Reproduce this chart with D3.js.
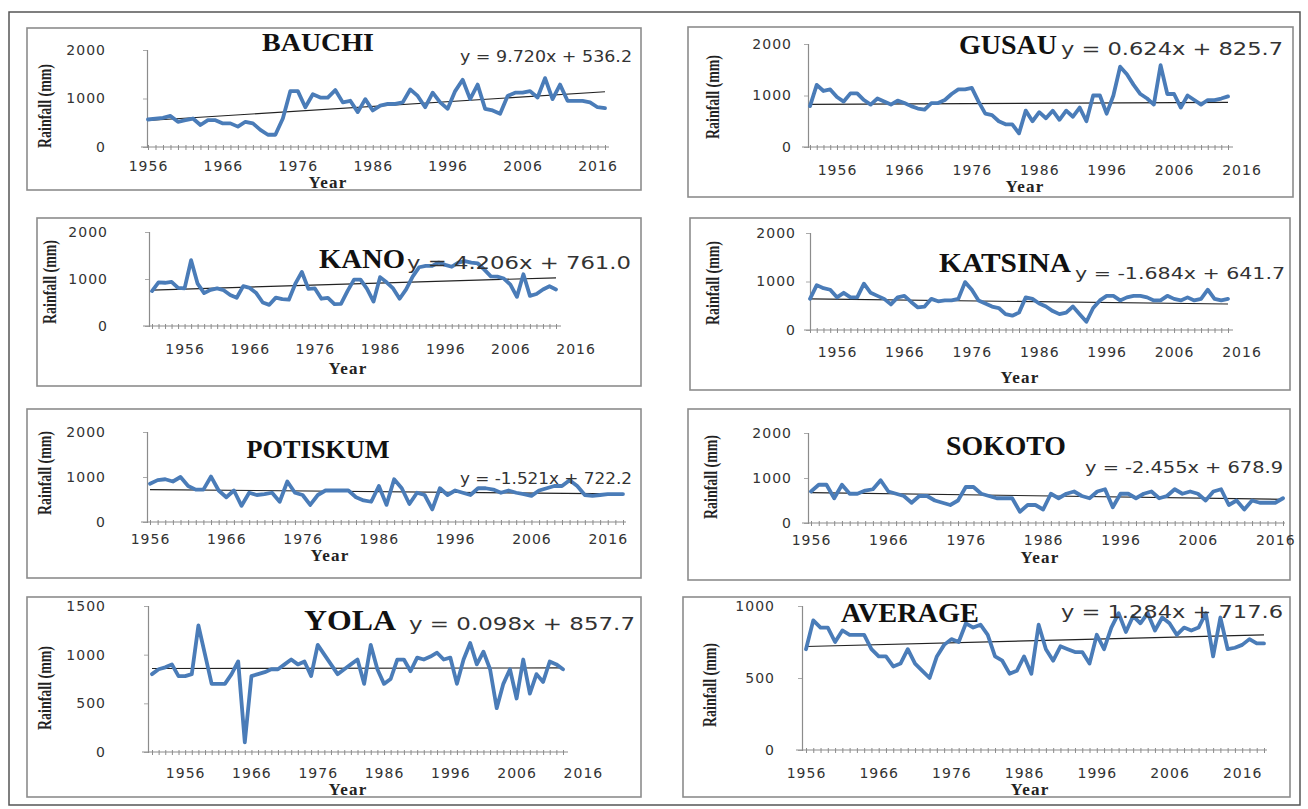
<!DOCTYPE html>
<html><head><meta charset="utf-8">
<script src="https://cdn.jsdelivr.net/npm/d3@7"></script>
<style>body{margin:0;background:#fff}</style>
</head><body><svg id="c" width="1308" height="809"></svg>
<script>
const stations = ["BAUCHI","GUSAU","KANO","KATSINA","POTISKUM","SOKOTO","YOLA","AVERAGE"];
const startYears = [1956,1952,1951,1952,1956,1956,1951,1956];
const yMax = [2000,2000,2000,2000,2000,2000,1500,1000];
const yStep = [1000,1000,1000,1000,1000,1000,500,500];
const slopes = [9.720,0.624,4.206,-1.684,-1.521,-2.455,0.098,1.284];
const intercepts = [536.2,825.7,761.0,641.7,722.2,678.9,857.7,717.6];
const equations = ["y = 9.720x + 536.2","y = 0.624x + 825.7","y = 4.206x + 761.0","y = -1.684x + 641.7","y = -1.521x + 722.2","y = -2.455x + 678.9","y = 0.098x + 857.7","y = 1.284x + 717.6"];
const xTickYears = [1956,1966,1976,1986,1996,2006,2016];

const bauchi = [567,587,600,640,520,553,587,453,553,553,487,487,420,520,487,353,253,253,587,1153,1153,820,1087,1020,1020,1173,920,953,720,987,753,853,887,887,920,1187,1053,820,1120,920,787,1153,1387,987,1287,787,753,687,1053,1120,1120,1153,1020,1420,987,1287,953,953,953,920,820,800];
const gusau = [794,1206,1088,1118,971,882,1041,1041,912,824,941,882,824,900,853,794,747,724,853,853,912,1029,1118,1118,1147,882,647,618,500,441,441,265,706,500,676,559,706,529,706,588,765,500,1000,1000,647,1000,1559,1412,1206,1029,941,824,1588,1029,1029,765,1000,912,824,912,912,941,982];
const kano = [743,930,920,940,810,800,1400,900,700,770,800,760,660,600,847,810,700,500,450,604,570,560,900,1150,790,800,580,600,465,470,743,986,986,790,520,1040,930,800,580,780,1050,1250,1280,1280,1350,1300,1260,1350,1380,1350,1330,1200,1056,1050,1010,880,620,1100,640,680,778,847,778];
const katsina = [642,925,862,830,673,767,673,673,956,767,704,642,528,673,704,579,465,484,642,591,610,610,642,987,830,610,547,484,453,327,296,358,673,642,547,484,390,327,358,484,327,170,453,610,704,704,610,673,704,704,673,610,610,704,642,610,673,610,642,830,642,610,642];
const potiskum = [850,930,950,900,1000,800,720,720,1010,700,550,700,360,650,600,620,650,450,900,650,600,380,600,700,700,700,700,550,480,450,800,380,950,750,400,650,600,280,750,600,700,650,600,750,750,720,650,700,650,620,580,700,750,800,800,930,800,600,580,600,620,620,620];
const sokoto = [700,850,850,550,850,650,650,720,750,950,700,650,600,450,600,600,500,450,400,500,800,800,650,600,550,550,550,250,400,400,300,650,550,650,700,600,550,700,750,350,650,650,550,650,700,550,600,750,650,700,650,500,700,750,400,500,300,500,450,450,450,550];
const yola = [800,850,870,900,780,780,800,1300,1000,700,700,700,800,930,100,780,800,820,850,850,900,950,900,930,780,1100,1000,900,800,850,900,950,700,1100,850,700,750,950,950,830,970,950,980,1020,950,970,700,950,1120,900,1030,850,450,700,850,550,950,600,800,720,930,900,850];
const average = [700,900,850,850,750,830,800,800,800,700,650,650,580,600,700,600,550,500,650,730,770,750,880,850,870,800,650,620,530,550,650,530,870,700,620,720,700,680,680,600,800,700,850,950,820,930,880,950,830,920,880,800,850,830,850,950,650,920,700,710,730,770,740,740];

const series = [bauchi,gusau,kano,katsina,potiskum,sokoto,yola,average];

// geometry of each panel (pixels): tc = [cx, cy, fontSize, width], ec = [x, y, anchor, width, fontSize]
const layout = [
 {box:[27,28,641,190], ax:147, yTop:50, y0:147, xr:[148,605], axEnd:609, tp:37, xl:168, yc:[328,182], rl:[45,106], tc:[318,42,26,112], ec:[460,57,"start",172,15]},
 {box:[688,27,1293,197], ax:808, yTop:44, y0:147, xr:[810,1228], axEnd:1233, tp:12, xl:172, yc:[1025,186], rl:[713,97], tc:[1008,45,27,98], ec:[1061,49,"start",222,17]},
 {box:[37,218,641,386], ax:149, yTop:232, y0:326, xr:[152,556], axEnd:561, tp:37, xl:351, yc:[348,368], rl:[50,282], tc:[362,258,28,86], ec:[407,263,"start",224,17]},
 {box:[690,218,1290,390], ax:810, yTop:233, y0:330, xr:[810,1228], axEnd:1233, tp:10, xl:354, yc:[1020,377], rl:[713,283], tc:[1005,262,28,132], ec:[1285,273,"end",210,16]},
 {box:[27,409,641,578], ax:147, yTop:432, y0:522, xr:[150,623], axEnd:626, tp:37, xl:541, yc:[330,555], rl:[45,473], tc:[318,449,26,143], ec:[632,479,"end",172,15]},
 {box:[688,409,1290,580], ax:808, yTop:433, y0:523, xr:[811,1283], axEnd:1285, tp:12, xl:542, yc:[1040,557], rl:[711,477], tc:[1006,446,27,120], ec:[1283,468,"end",198,15]},
 {box:[27,597,641,797], ax:148, yTop:606, y0:752, xr:[152,563], axEnd:568, tp:38, xl:775, yc:[348,789], rl:[45,688], tc:[350,620,29,92], ec:[635,624,"end",226,17]},
 {box:[683,597,1290,797], ax:802, yTop:606, y0:750, xr:[806,1264], axEnd:1267, tp:23, xl:775, yc:[1030,789], rl:[710,685], tc:[910,613,27,138], ec:[1283,612,"end",222,17]}
];

const svg = d3.select("#c");
svg.append("rect").attr("x",9).attr("y",12).attr("width",1291).attr("height",793)
  .attr("fill","none").attr("stroke","#555").attr("stroke-width",1.5);

const fmt = d3.format("d");

layout.forEach((L,k)=>{
  const g = svg.append("g");
  g.append("rect").attr("x",L.box[0]).attr("y",L.box[1])
    .attr("width",L.box[2]-L.box[0]).attr("height",L.box[3]-L.box[1])
    .attr("fill","#fff").attr("stroke","#8c8c8c").attr("stroke-width",1.6);
  const vals = series[k];
  const years = d3.range(startYears[k], startYears[k]+vals.length);
  const x = d3.scaleLinear().domain([years[0], years[years.length-1]]).range(L.xr);
  const y = d3.scaleLinear().domain([0, yMax[k]]).range([L.y0, L.yTop]);

  // y axis
  const ya = g.append("g").attr("transform",`translate(${L.ax},0)`)
    .call(d3.axisLeft(y).tickValues(d3.range(0,yMax[k]+1,yStep[k])).tickFormat(fmt).tickSize(4).tickPadding(L.tp));
  ya.select(".domain").attr("stroke","#8c8c8c").attr("stroke-width",1.2);
  ya.selectAll(".tick line").attr("stroke","#aaa");
  ya.selectAll("text").attr("font-family","DejaVu Sans").attr("font-size",14).attr("letter-spacing",1).attr("fill","#333");

  // x axis line
  g.append("line").attr("x1",L.ax-6).attr("x2",L.axEnd).attr("y1",L.y0).attr("y2",L.y0)
    .attr("stroke","#8c8c8c").attr("stroke-width",1.2);
  // minor ticks per year
  const xm = g.append("g").attr("transform",`translate(0,${L.y0-2})`)
    .call(d3.axisBottom(x).tickValues(years).tickSize(5).tickFormat(""));
  xm.select(".domain").remove();
  xm.selectAll(".tick line").attr("stroke","#8c8c8c");
  // year labels
  const xl = g.append("g").attr("transform",`translate(0,${L.xl-7})`)
    .call(d3.axisBottom(x).tickValues(xTickYears).tickFormat(fmt).tickSize(0).tickPadding(0));
  xl.select(".domain").remove();
  xl.selectAll("text").attr("font-family","DejaVu Sans").attr("font-size",14).attr("fill","#333")
    .attr("letter-spacing",1);

  // trend line
  const n = vals.length;
  g.append("line").attr("x1",x(years[0])).attr("x2",x(years[n-1]))
    .attr("y1",y(slopes[k]*1+intercepts[k])).attr("y2",y(slopes[k]*n+intercepts[k]))
    .attr("stroke","#222").attr("stroke-width",1.2);

  // data line
  const line = d3.line().x((d,i)=>x(years[i])).y(d=>y(d));
  g.append("path").datum(vals).attr("d",line).attr("fill","none")
    .attr("stroke","#4a7cb8").attr("stroke-width",3.8).attr("stroke-linejoin","round").attr("stroke-linecap","round");

  // title
  g.append("text").attr("x",L.tc[0]).attr("y",L.tc[1]).attr("dy","0.35em").attr("text-anchor","middle")
    .attr("font-family","Liberation Serif").attr("font-weight","bold").attr("font-size",L.tc[2])
    .attr("textLength",L.tc[3]).attr("lengthAdjust","spacingAndGlyphs").attr("fill","#111").text(stations[k]);
  // equation
  g.append("text").attr("x",L.ec[0]).attr("y",L.ec[1]).attr("dy","0.35em").attr("text-anchor",L.ec[2])
    .attr("font-family","DejaVu Sans").attr("font-size",L.ec[4]).attr("fill","#333")
    .attr("textLength",L.ec[3]).attr("lengthAdjust","spacingAndGlyphs")
    .text(equations[k]);
  // x title
  g.append("text").attr("x",L.yc[0]).attr("y",L.yc[1]).attr("dy","0.35em").attr("text-anchor","middle")
    .attr("font-family","Liberation Serif").attr("font-weight","bold").attr("font-size",17)
    .attr("letter-spacing",1.2).attr("fill","#222").text("Year");
  // y title
  g.append("text").attr("transform",`translate(${L.rl[0]},${L.rl[1]}) rotate(-90)`)
    .attr("dy","0.35em").attr("text-anchor","middle")
    .attr("font-family","Liberation Serif").attr("font-weight","bold").attr("font-size",18)
    .attr("textLength",84).attr("lengthAdjust","spacingAndGlyphs").attr("fill","#222").text("Rainfall (mm)");
});
</script></body></html>
